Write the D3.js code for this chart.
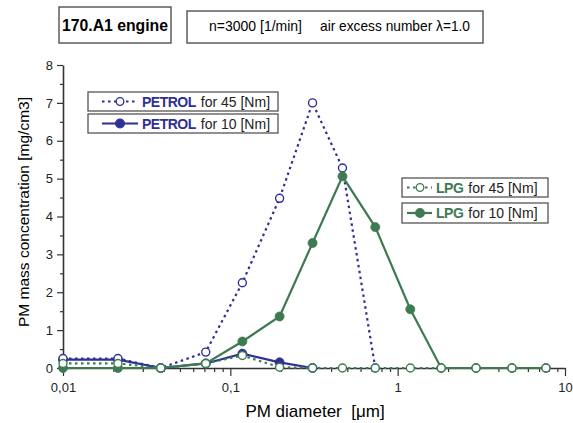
<!doctype html>
<html>
  <head>
    <script src="https://cdnjs.cloudflare.com/ajax/libs/d3/7.8.5/d3.min.js"></script>
    <style>
      body { margin: 0; background: #fff; }
      text { font-family: Arial, "Liberation Sans", sans-serif; }
    </style>
  </head>
  <body>
    <svg></svg>
    <script>
      var width = 573,
          height = 423;

      // PM diameter [um] (impactor stages)
      var diameters = [0.01, 0.0213, 0.0384, 0.0713, 0.118, 0.197, 0.31, 0.468, 0.735, 1.19, 1.82, 2.94, 4.82, 7.69];
      var petrol45 = [0.25, 0.25, 0, 0.42, 2.25, 4.48, 7.0, 5.28, 0];
      var petrol10 = [0.22, 0.22, 0, 0.12, 0.38, 0.15, 0];
      var lpg45 = [0.12, 0.12, 0, 0.12, 0.33, 0.02, 0, 0, 0, 0, 0, 0, 0, 0];
      var lpg10 = [0, 0, 0, 0.12, 0.7, 1.36, 3.3, 5.06, 3.72, 1.55, 0, 0, 0, 0];

      var xTickValues = [0.01, 0.1, 1, 10];
      var xTickLabels = ["0,01", "0,1", "1", "10"];
      var yTickValues = [0, 1, 2, 3, 4, 5, 6, 7, 8];

      var blue = "#2f2f96",
          green = "#3d7a52";

      var svg = d3.select("svg").attr("width", width).attr("height", height);

      var x = d3.scaleLog().domain([0.01, 10]).range([63, 565]);
      var y = d3.scaleLinear().domain([0, 8]).range([368, 65]);

      // title boxes
      svg.append("rect").attr("x", 59).attr("y", 7).attr("width", 112).attr("height", 36)
        .attr("fill", "none").attr("stroke", "#444").attr("stroke-width", 1.3);
      svg.append("text").attr("x", 62).attr("y", 31)
        .attr("font-size", "16px").attr("font-weight", "bold")
        .attr("textLength", 106).attr("lengthAdjust", "spacingAndGlyphs")
        .text("170.A1 engine");
      svg.append("rect").attr("x", 187).attr("y", 11).attr("width", 296).attr("height", 32)
        .attr("fill", "none").attr("stroke", "#444").attr("stroke-width", 1.3);
      svg.append("text").attr("x", 209).attr("y", 31).attr("font-size", "15px")
        .attr("textLength", 93).attr("lengthAdjust", "spacingAndGlyphs")
        .text("n=3000 [1/min]");
      svg.append("text").attr("x", 320).attr("y", 31).attr("font-size", "15px")
        .attr("textLength", 150).attr("lengthAdjust", "spacingAndGlyphs")
        .text("air excess number \u03bb=1.0");

      // axes
      var minorX = [];
      [0.01, 0.1, 1].forEach(function(d) {
        for (var i = 2; i <= 9; i++) minorX.push(d * i);
      });
      var xAxis = svg.append("g").attr("transform", "translate(0,368)");
      xAxis.call(d3.axisBottom(x).tickValues(xTickValues).tickFormat(function(d, i) { return xTickLabels[i]; })
        .tickSize(8).tickSizeOuter(0).tickPadding(7));
      svg.append("g").attr("transform", "translate(0,368)")
        .call(d3.axisBottom(x).tickValues(minorX).tickFormat("").tickSize(4))
        .select(".domain").remove();

      var yAxis = svg.append("g").attr("transform", "translate(63,0)");
      yAxis.call(d3.axisLeft(y).tickValues(yTickValues).tickSize(6).tickSizeOuter(0).tickPadding(4));
      svg.append("g").attr("transform", "translate(63,0)")
        .call(d3.axisLeft(y).tickValues(d3.range(0.5, 8, 1)).tickFormat("").tickSize(3))
        .select(".domain").remove();

      svg.selectAll(".domain").attr("stroke", "#333").attr("stroke-width", 1.6);
      svg.selectAll(".tick line").attr("stroke", "#333").attr("stroke-width", 1.2);
      svg.selectAll(".tick text").attr("font-size", "13px").attr("fill", "#222")
        .attr("font-family", "Arial, 'Liberation Sans', sans-serif");

      svg.append("text").attr("x", 315).attr("y", 417).attr("text-anchor", "middle")
        .attr("font-size", "17px").attr("xml:space", "preserve").text("PM diameter  [\u03bcm]");
      svg.append("text").attr("transform", "translate(29,212) rotate(-90)").attr("text-anchor", "middle")
        .attr("font-size", "15.5px").text("PM mass concentration [mg/cm3]");

      // series
      var series = [
        {values: petrol10, color: blue, dash: null, open: false},
        {values: petrol45, color: blue, dash: "2.5,3.5", open: true},
        {values: lpg10, color: green, dash: null, open: false},
        {values: lpg45, color: green, dash: "2.5,3.5", open: true}
      ];

      var line = d3.line().x(function(d) { return x(d[0]); }).y(function(d) { return y(d[1]); });

      series.forEach(function(s) {
        var pts = s.values.map(function(v, i) { return [diameters[i], v]; });
        svg.append("path").datum(pts).attr("d", line)
          .attr("fill", "none").attr("stroke", s.color).attr("stroke-width", 2.2)
          .attr("stroke-dasharray", s.dash);
        svg.selectAll(null).data(pts).enter().append("circle")
          .attr("cx", function(d) { return x(d[0]); })
          .attr("cy", function(d) { return y(d[1]); })
          .attr("r", s.open ? 4 : 4.5)
          .attr("fill", s.open ? "#fff" : s.color)
          .attr("stroke", s.color).attr("stroke-width", s.open ? 1.4 : 0.8);
      });

      // legends
      var legends = [
        {x: 88, y: 92, w: 190, h: 19, lx: [14, 50], mx: 32, tx: 54, color: blue, dash: "2.5,3.5", open: true, name: "PETROL", rest: "for 45 [Nm]"},
        {x: 88, y: 114, w: 190, h: 19, lx: [14, 50], mx: 32, tx: 54, color: blue, dash: null, open: false, name: "PETROL", rest: "for 10 [Nm]"},
        {x: 402, y: 178, w: 146, h: 19, lx: [5, 30], mx: 18, tx: 34, color: green, dash: "2.5,3.5", open: true, name: "LPG", rest: "for 45 [Nm]"},
        {x: 402, y: 203, w: 146, h: 20, lx: [5, 30], mx: 18, tx: 34, color: green, dash: null, open: false, name: "LPG", rest: "for 10 [Nm]"}
      ];
      legends.forEach(function(l) {
        var g = svg.append("g").attr("transform", "translate(" + l.x + "," + l.y + ")");
        g.append("rect").attr("width", l.w).attr("height", l.h).attr("fill", "#fff")
          .attr("stroke", "#555").attr("stroke-width", 1.3);
        var cy = l.h / 2;
        g.append("line").attr("x1", l.lx[0]).attr("x2", l.lx[1]).attr("y1", cy).attr("y2", cy)
          .attr("stroke", l.color).attr("stroke-width", 2.2).attr("stroke-dasharray", l.dash);
        g.append("circle").attr("cx", l.mx).attr("cy", cy).attr("r", l.open ? 3.8 : 4.3)
          .attr("fill", l.open ? "#fff" : l.color).attr("stroke", l.color).attr("stroke-width", 1.3);
        var t = g.append("text").attr("x", l.tx).attr("y", cy + 5).attr("font-size", "14px");
        t.append("tspan").attr("font-weight", "bold").attr("fill", l.color).attr("letter-spacing", "-0.5").text(l.name);
        t.append("tspan").attr("fill", "#222").attr("dx", 5).text(l.rest);
      });
    </script>
  </body>
</html>
